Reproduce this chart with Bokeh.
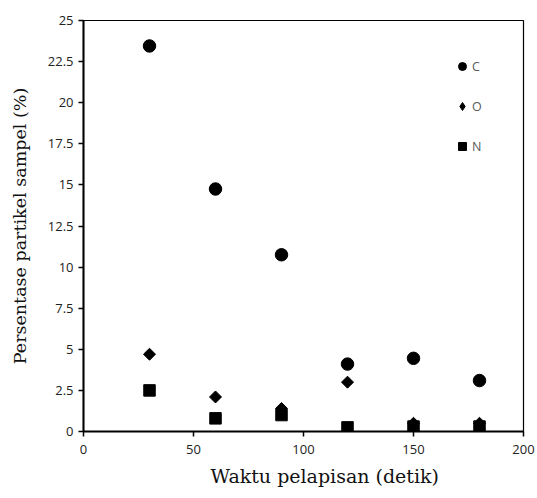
import numpy as np
from bokeh.plotting import figure
from bokeh.models import Range1d, Legend, LegendItem, FixedTicker, Title
from bokeh.embed import file_html
from bokeh.resources import INLINE

time = [30, 60, 90, 120, 150, 180]
C = [23.45, 14.75, 10.75, 4.1, 4.45, 3.1]
O = [4.7, 2.1, 1.4, 3.0, 0.5, 0.5]
N = [2.5, 0.8, 1.0, 0.25, 0.3, 0.3]
x_ticks = [0, 50, 100, 150, 200]
y_ticks = [0, 2.5, 5, 7.5, 10, 12.5, 15, 17.5, 20, 22.5, 25]

p = figure(width=537, height=498, output_backend="svg", toolbar_location=None,
           x_range=Range1d(0, 200), y_range=Range1d(0, 25),
           min_border_left=83, min_border_top=20, min_border_right=14, min_border_bottom=67)
p.grid.visible = False
p.outline_line_color = "black"
p.outline_line_width = 1.2

for ax in (p.xaxis[0], p.yaxis[0]):
    ax.axis_line_width = 2
    ax.axis_line_color = "black"
    ax.major_tick_line_color = "black"
    ax.major_tick_line_width = 1.5
    ax.major_tick_out = 5
    ax.major_tick_in = 0
    ax.minor_tick_line_color = None
    ax.major_label_text_font = "Open Sans"
    ax.major_label_text_font_size = "13px"
    ax.major_label_text_color = "#222222"

p.xaxis.ticker = FixedTicker(ticks=x_ticks)
p.yaxis.ticker = FixedTicker(ticks=y_ticks)
p.xaxis.major_label_standoff = 8
p.yaxis.major_label_standoff = 5

p.yaxis.axis_label = "Persentase partikel sampel (%)"
p.yaxis.axis_label_text_font = "DejaVu Serif"
p.yaxis.axis_label_text_font_size = "17.5px"
p.yaxis.axis_label_text_font_style = "normal"
p.yaxis.axis_label_text_color = "#111111"
p.yaxis.axis_label_standoff = 15

xtitle = Title(text="Waktu pelapisan (detik)", align="left", offset=127,
               text_font="DejaVu Serif", text_font_size="19px",
               text_font_style="normal", text_color="#111111", standoff=13)
p.add_layout(xtitle, "below")

rc = p.scatter(time, C, marker="circle", size=12.5, color="black")
ro = p.scatter(time, O, marker="square", size=8.5, angle=np.pi / 4, color="black")
# small diamond hidden under each O marker, used for the legend swatch
ro_leg = p.scatter(time, O, marker="diamond", size=8, color="black")
rn = p.scatter(time, N, marker="square", size=11.5, color="black")

legend = Legend(items=[LegendItem(label="C", renderers=[rc]),
                       LegendItem(label="O", renderers=[ro_leg]),
                       LegendItem(label="N", renderers=[rn])],
                location=(369, 275), orientation="vertical",
                border_line_color=None, background_fill_alpha=0,
                padding=0, margin=0, spacing=20, glyph_width=20, glyph_height=20,
                label_height=20, label_standoff=0,
                label_text_font="Open Sans", label_text_font_size="12.5px",
                label_text_color="#595959")
p.add_layout(legend, "center")

open("out.html", "w").write(file_html(p, INLINE))
